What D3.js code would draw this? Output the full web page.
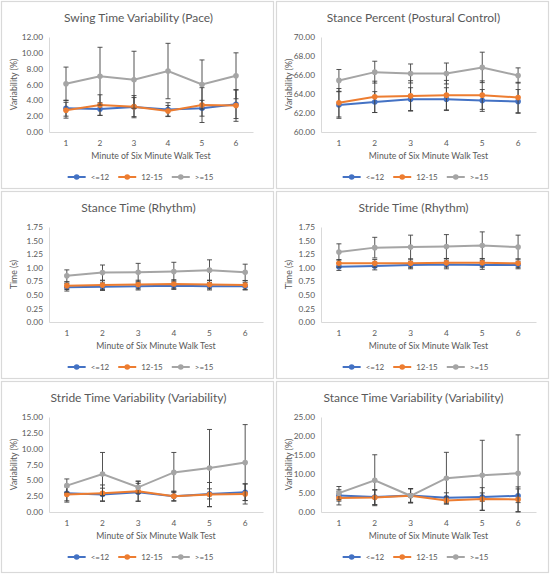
<!DOCTYPE html>
<html>
<head>
<meta charset="utf-8">
<script src="https://cdn.jsdelivr.net/npm/d3@7"></script>
<style>
  body { margin: 0; background: #fff; }
  svg { display: block; font-family: Lato, "Open Sans", sans-serif; }
</style>
</head>
<body>
<svg id="chart" width="550" height="574"></svg>
<script>
// minutes of the walk test and the three groups
const minutes = [1, 2, 3, 4, 5, 6];
const groups = ["<=12", "12-15", ">=15"];
const groupColors = ["#4472C4", "#ED7D31", "#A5A5A5"];

// swing time variability (%) - mean and sd, one row per group
const swingMeans = [[3.0, 2.9, 3.15, 2.85, 3.0, 3.5], [2.75, 3.4, 3.2, 2.65, 3.4, 3.35], [6.1, 7.05, 6.6, 7.7, 6.0, 7.1]];
const swingSds = [[1.0, 0.8, 1.2, 0.85, 1.0, 1.8], [1.0, 1.3, 1.4, 0.7, 2.2, 2.0], [2.1, 3.65, 3.6, 3.5, 3.1, 2.9]];

// stance percent
const stancePctMeans = [[62.84, 63.15, 63.46, 63.46, 63.32, 63.22], [63.08, 63.7, 63.8, 63.88, 63.88, 63.63], [65.43, 66.3, 66.16, 66.16, 66.8, 65.95]];
const stancePctSds = [[1.4, 1.1, 1.2, 1.2, 1.15, 1.25], [1.5, 1.65, 1.6, 1.55, 1.5, 1.6], [1.15, 1.15, 1.0, 1.1, 1.6, 0.8]];

// stance time (s)
const stanceTimeMeans = [[0.64, 0.65, 0.66, 0.67, 0.66, 0.66], [0.67, 0.68, 0.69, 0.70, 0.69, 0.68], [0.85, 0.91, 0.915, 0.93, 0.955, 0.915]];
const stanceTimeSds = [[0.07, 0.07, 0.07, 0.07, 0.07, 0.07], [0.07, 0.08, 0.08, 0.08, 0.08, 0.08], [0.11, 0.14, 0.165, 0.17, 0.19, 0.15]];

// stride time (s)
const strideTimeMeans = [[1.02, 1.03, 1.05, 1.06, 1.05, 1.05], [1.08, 1.08, 1.08, 1.09, 1.09, 1.08], [1.29, 1.37, 1.38, 1.39, 1.41, 1.38]];
const strideTimeSds = [[0.07, 0.07, 0.07, 0.08, 0.08, 0.07], [0.07, 0.07, 0.08, 0.08, 0.08, 0.08], [0.15, 0.19, 0.22, 0.22, 0.25, 0.22]];

// stride time variability (%)
const strideVarMeans = [[2.97, 2.76, 3.12, 2.5, 2.86, 3.12], [2.76, 2.97, 3.28, 2.5, 2.76, 2.86], [4.17, 6.0, 3.9, 6.25, 6.93, 7.8]];
const strideVarSds = [[1.2, 1.0, 1.4, 0.7, 0.8, 1.3], [1.2, 1.3, 1.6, 0.8, 1.9, 1.6], [1.05, 3.4, 0.95, 3.15, 6.1, 6.0]];

// stance time variability (%)
const stanceVarMeans = [[4.36, 3.92, 4.36, 3.75, 3.92, 4.27], [3.66, 3.83, 4.27, 3.05, 3.4, 3.31], [4.96, 8.36, 4.27, 8.9, 9.67, 10.2]];
const stanceVarSds = [[1.5, 2.0, 1.8, 1.3, 1.1, 1.8], [1.8, 1.9, 1.9, 0.9, 3.0, 3.3], [1.75, 6.7, 1.8, 6.8, 9.2, 10.1]];

const xTitle = "Minute of Six Minute Walk Test";

const panels = [
  { title: "Swing Time Variability (Pace)", yTitle: "Variability (%)", yMin: 0, yMax: 12, yStep: 2, means: swingMeans, sds: swingSds },
  { title: "Stance Percent (Postural Control)", yTitle: "Variability (%)", yMin: 60, yMax: 70, yStep: 2, means: stancePctMeans, sds: stancePctSds },
  { title: "Stance Time (Rhythm)", yTitle: "Time (s)", yMin: 0, yMax: 1.75, yStep: 0.25, means: stanceTimeMeans, sds: stanceTimeSds },
  { title: "Stride Time (Rhythm)", yTitle: "Time (s)", yMin: 0, yMax: 1.75, yStep: 0.25, means: strideTimeMeans, sds: strideTimeSds },
  { title: "Stride Time Variability (Variability)", yTitle: "Variability (%)", yMin: 0, yMax: 15, yStep: 2.5, means: strideVarMeans, sds: strideVarSds },
  { title: "Stance Time Variability (Variability)", yTitle: "Variability (%)", yMin: 0, yMax: 25, yStep: 5, means: stanceVarMeans, sds: stanceVarSds }
];

const svg = d3.select("#chart");
const textCol = "#595959";
const rowY = [0, 190, 380];
const rowH = [190, 190, 194];
const fmt = d3.format(".2f");

panels.forEach(function (p, i) {
  const col = i % 2, row = Math.floor(i / 2);
  const W = 275, H = rowH[row];
  const g = svg.append("g").attr("transform", `translate(${col * 275},${rowY[row]})`);

  g.append("rect").attr("x", 1.5).attr("y", 1.5).attr("width", W - 3).attr("height", H - 3)
    .attr("fill", "#fff").attr("stroke", "#d9d9d9").attr("stroke-width", 1.2);

  // plot area
  const left = col == 0 ? 49 : 46;
  const right = col == 0 ? (i == 0 ? 253 : 263) : 261;
  const top = 37, bottom = 132;

  const x = d3.scaleBand().domain(minutes).range([left, right]);
  const y = d3.scaleLinear().domain([p.yMin, p.yMax]).range([bottom, top]);
  const cx = d => x(d) + x.bandwidth() / 2;

  g.append("text").attr("x", W / 2 + 1).attr("y", 22).attr("text-anchor", "middle")
    .attr("font-size", 12).attr("fill", textCol).text(p.title);

  // axes
  const yTicks = d3.range(p.yMin, p.yMax + p.yStep / 2, p.yStep);
  const yAxis = g.append("g").attr("transform", `translate(${left},0)`)
    .call(d3.axisLeft(y).tickValues(yTicks).tickFormat(fmt).tickSize(0).tickPadding(6));
  const xAxis = g.append("g").attr("transform", `translate(0,${bottom})`)
    .call(d3.axisBottom(x).tickSize(0).tickPadding(8));
  [xAxis, yAxis].forEach(a => {
    a.select(".domain").attr("stroke", "#d9d9d9").attr("stroke-width", 1);
    a.selectAll("text").attr("fill", textCol).attr("font-size", 8.3).attr("font-family", "Lato, sans-serif");
  });

  g.append("text").attr("x", (left + right) / 2).attr("y", 159).attr("text-anchor", "middle")
    .attr("font-size", 8.7).attr("fill", textCol).text(xTitle);
  g.append("text").attr("transform", `translate(17,${(top + bottom) / 2}) rotate(-90)`)
    .attr("text-anchor", "middle").attr("font-size", 8.7).attr("fill", textCol).text(p.yTitle);

  const line = d3.line().x((d, k) => cx(minutes[k])).y(d => y(d));

  p.means.forEach(function (vals, s) {
    const eb = g.append("g").attr("stroke", "#404040").attr("stroke-width", 0.9);
    vals.forEach(function (v, k) {
      const xx = cx(minutes[k]);
      const lo = y(v - p.sds[s][k]), hi = y(v + p.sds[s][k]);
      eb.append("line").attr("x1", xx).attr("x2", xx).attr("y1", lo).attr("y2", hi);
      eb.append("line").attr("x1", xx - 2.5).attr("x2", xx + 2.5).attr("y1", lo).attr("y2", lo);
      eb.append("line").attr("x1", xx - 2.5).attr("x2", xx + 2.5).attr("y1", hi).attr("y2", hi);
    });
    g.append("path").datum(vals).attr("d", line).attr("fill", "none")
      .attr("stroke", groupColors[s]).attr("stroke-width", 2);
    g.selectAll(null).data(vals).enter().append("circle")
      .attr("cx", (d, k) => cx(minutes[k])).attr("cy", d => y(d)).attr("r", 2.8)
      .attr("fill", groupColors[s]);
  });

  // legend
  const leg = g.append("g");
  let lx = 0;
  groups.forEach(function (name, s) {
    const it = leg.append("g").attr("transform", `translate(${lx},0)`);
    it.append("line").attr("x1", 0).attr("x2", 18).attr("stroke", groupColors[s]).attr("stroke-width", 2);
    it.append("circle").attr("cx", 9).attr("r", 2.8).attr("fill", groupColors[s]);
    const t = it.append("text").attr("x", 23).attr("y", 3).attr("font-size", 8).attr("fill", textCol).text(name);
    lx += 23 + t.node().getComputedTextLength() + 9;
  });
  lx -= 9;
  leg.attr("transform", `translate(${(W - lx) / 2 + 3},${177})`);
});
</script>
</body>
</html>
